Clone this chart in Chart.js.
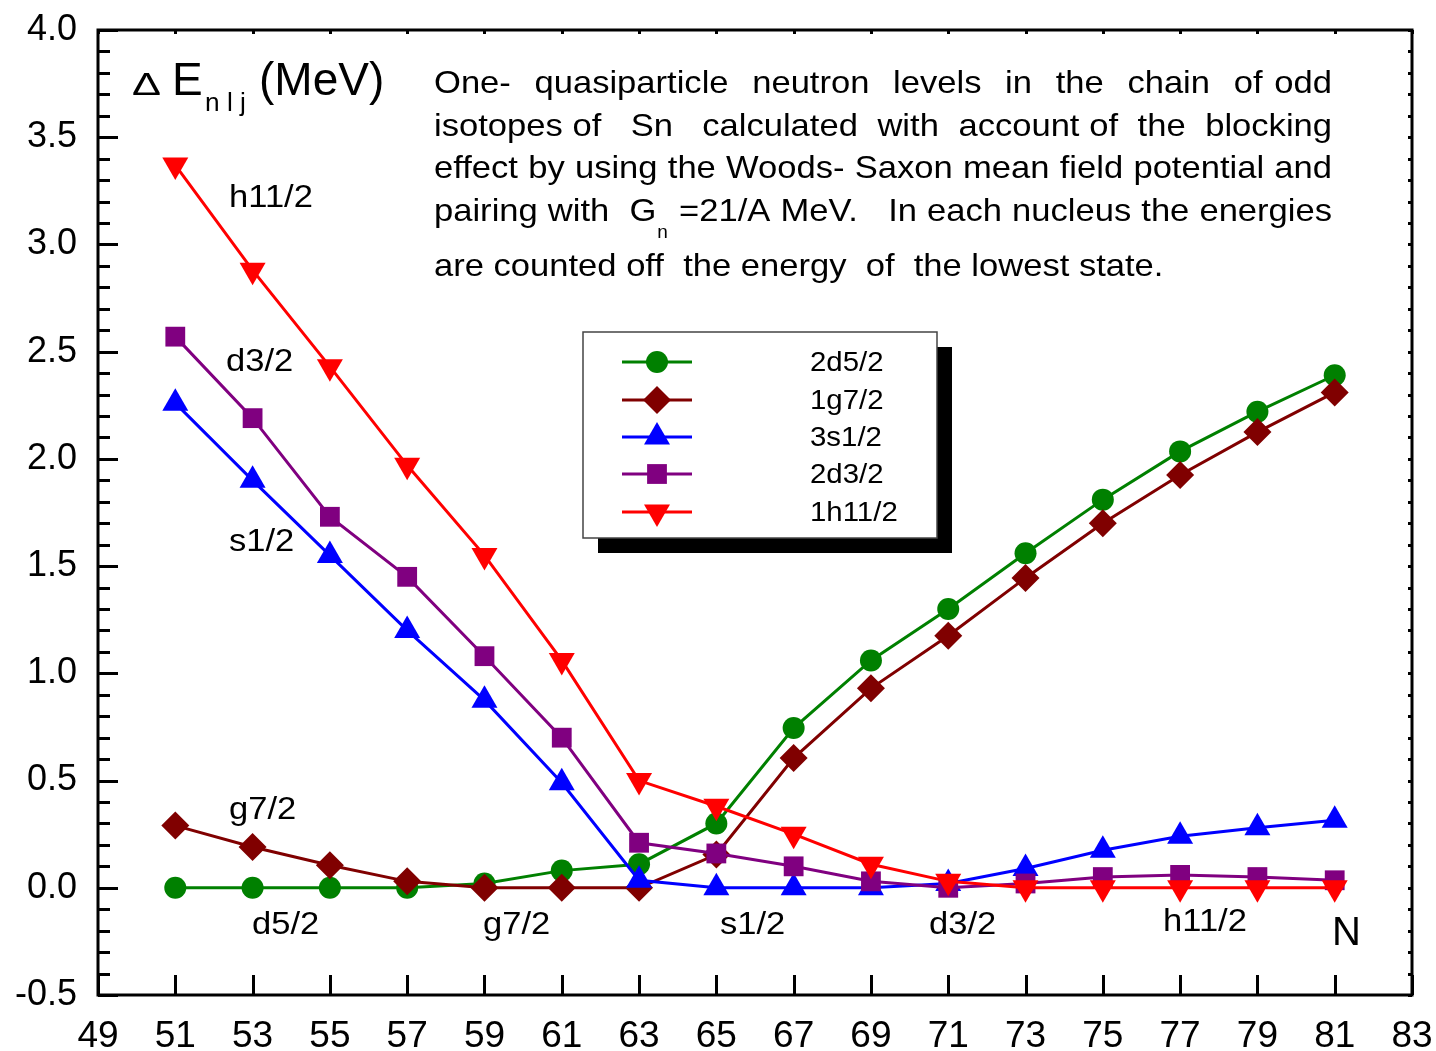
<!DOCTYPE html>
<html>
<head>
<meta charset="utf-8">
<script src="https://cdn.jsdelivr.net/npm/chart.js@4.4.1/dist/chart.umd.min.js"></script>
<style>
  html, body { margin: 0; padding: 0; background: #fff; }
  #wrap { width: 1436px; height: 1051px; }
</style>
</head>
<body>
<div id="wrap"><canvas id="chart" width="1436" height="1051"></canvas></div>
<script>
// neutron number N of the odd Sn isotopes
const neutronN = [51, 53, 55, 57, 59, 61, 63, 65, 67, 69, 71, 73, 75, 77, 79, 81];

// quasiparticle level energies (MeV)
const level2d52  = [0, 0, 0, 0, 0.02, 0.08, 0.11, 0.30, 0.745, 1.06, 1.30, 1.56, 1.81, 2.035, 2.22, 2.39];
const level1g72  = [0.29, 0.19, 0.105, 0.03, 0, 0, 0, 0.155, 0.605, 0.93, 1.175, 1.445, 1.70, 1.925, 2.125, 2.31];
const level3s12  = [2.26, 1.90, 1.55, 1.20, 0.875, 0.49, 0.035, 0, 0, 0, 0.02, 0.09, 0.175, 0.24, 0.28, 0.315];
const level2d32  = [2.57, 2.19, 1.73, 1.45, 1.08, 0.70, 0.21, 0.16, 0.10, 0.03, 0, 0.02, 0.05, 0.06, 0.05, 0.035];
const level1h112 = [3.37, 2.88, 2.43, 1.97, 1.55, 1.06, 0.50, 0.38, 0.25, 0.11, 0.03, 0, 0, 0, 0, 0];

const seriesNames = ["2d5/2", "1g7/2", "3s1/2", "2d3/2", "1h11/2"];
const xTickMin = 49, xTickMax = 83, xTickStep = 2;
const yTickMin = -0.5, yTickMax = 4.0, yTickStep = 0.5;

const FONT = "'Liberation Sans', Arial, sans-serif";

function toPoints(vals) {
    return neutronN.map((n, i) => ({ x: n, y: vals[i] }));
}

const styles = [
    { color: "#008000", pointStyle: "circle",   radius: 11, rotation: 0 },
    { color: "#800000", pointStyle: "rectRot",  radius: 14, rotation: 0 },
    { color: "#0000ff", pointStyle: "triangle", radius: 15, rotation: 0 },
    { color: "#800080", pointStyle: "rect",     radius: 14, rotation: 0 },
    { color: "#ff0000", pointStyle: "triangle", radius: 15, rotation: 180 },
];
const allLevels = [level2d52, level1g72, level3s12, level2d32, level1h112];

const datasets = allLevels.map((vals, i) => ({
    label: seriesNames[i],
    data: toPoints(vals),
    borderColor: styles[i].color,
    backgroundColor: styles[i].color,
    borderWidth: 3,
    pointStyle: styles[i].pointStyle,
    pointRadius: styles[i].radius,
    pointRotation: styles[i].rotation,
    pointBorderWidth: 0,
    pointBackgroundColor: styles[i].color,
    order: 5 - i,   // red on top, green at the bottom
}));

// text drawn with a slight horizontal stretch, like the original
function stretchText(ctx, text, x, y, size, sx) {
    ctx.save();
    ctx.font = size + "px " + FONT;
    ctx.translate(x, y);
    ctx.scale(sx, 1);
    ctx.fillText(text, 0, 0);
    ctx.restore();
}

// frame, inward ticks, legend box and text notes
const decorPlugin = {
    id: "decor",
    afterDraw(chart) {
        const ctx = chart.ctx;
        const a = chart.chartArea;
        const xs = chart.scales.x, ys = chart.scales.y;
        ctx.save();
        ctx.strokeStyle = "#000";
        ctx.lineWidth = 3;
        ctx.strokeRect(a.left, a.top, a.right - a.left, a.bottom - a.top);

        // y ticks: majors every 0.5, minors every 0.1
        for (let k = 0; k <= 45; k++) {
            const v = yTickMin + k * 0.1;
            const py = Math.round(ys.getPixelForValue(v)) + 0.5;
            const major = k % 5 === 0;
            ctx.beginPath();
            ctx.moveTo(a.left, py);
            ctx.lineTo(a.left + (major ? 20 : 12), py);
            ctx.moveTo(a.right, py);
            ctx.lineTo(a.right - 4, py);
            ctx.stroke();
        }
        // x ticks
        for (let v = xTickMin; v <= xTickMax; v += xTickStep) {
            const px = Math.round(xs.getPixelForValue(v)) + 0.5;
            ctx.beginPath();
            ctx.moveTo(px, a.bottom);
            ctx.lineTo(px, a.bottom - 20);
            ctx.moveTo(px, a.top);
            ctx.lineTo(px, a.top + 4);
            ctx.stroke();
        }

        // legend with drop shadow
        const lx = 583, ly = 332, lw = 354, lh = 206;
        ctx.fillStyle = "#000";
        ctx.fillRect(lx + 15, ly + 15, lw, lh);
        ctx.fillStyle = "#fff";
        ctx.fillRect(lx, ly, lw, lh);
        ctx.strokeStyle = "#444";
        ctx.lineWidth = 1.5;
        ctx.strokeRect(lx, ly, lw, lh);
        const rowY = [362, 400, 437, 474, 512];
        ctx.textBaseline = "middle";
        ctx.textAlign = "left";
        styles.forEach((s, i) => {
            const y = rowY[i];
            ctx.strokeStyle = s.color;
            ctx.fillStyle = s.color;
            ctx.lineWidth = 3;
            ctx.beginPath();
            ctx.moveTo(622, y);
            ctx.lineTo(692, y);
            ctx.stroke();
            Chart.helpers.drawPoint(ctx, {
                pointStyle: s.pointStyle, radius: s.radius, rotation: s.rotation, borderWidth: 0
            }, 657, y);
            ctx.fillStyle = "#000";
            stretchText(ctx, seriesNames[i], 810, y + 1, 28, 1.05);
        });

        // axis title
        ctx.fillStyle = "#000";
        ctx.textBaseline = "alphabetic";
        stretchText(ctx, "\u0394", 132, 95, 31, 1.4);
        stretchText(ctx, "E", 172, 95, 46, 1.0);
        stretchText(ctx, "n l j", 205, 111, 25, 1.05);
        stretchText(ctx, "(MeV)", 259, 95, 46, 1.0);

        // description paragraph, justified between x0 and x1;
        // every space is one stretchable gap, so runs of spaces stay wider
        const PS = 32, SX = 1.08;
        const x0 = 434, x1 = 1332;
        function wordWidth(w) {
            ctx.font = PS + "px " + FONT;
            if (typeof w === "string") return ctx.measureText(w).width * SX;
            const m = ctx.measureText(w.t).width * SX;
            ctx.font = "19px " + FONT;
            return m + ctx.measureText(w.sub).width + 2;
        }
        function justify(words, y) {
            const widths = words.map(wordWidth);
            const total = widths.reduce((p, c) => p + c, 0);
            const gap = (x1 - x0 - total) / (words.length - 1);
            let x = x0;
            words.forEach((w, i) => {
                if (typeof w === "string") {
                    if (w) stretchText(ctx, w, x, y, PS, SX);
                } else {
                    stretchText(ctx, w.t, x, y, PS, SX);
                    ctx.font = PS + "px " + FONT;
                    const m = ctx.measureText(w.t).width * SX;
                    stretchText(ctx, w.sub, x + m + 1, y + 17, 19, 1.0);
                }
                x += widths[i] + gap;
            });
        }
        justify("One-  quasiparticle  neutron  levels  in  the  chain  of odd".split(" "), 93);
        justify("isotopes of   Sn   calculated  with  account of  the  blocking".split(" "), 136);
        justify("effect by using the Woods- Saxon mean field potential and".split(" "), 178);
        justify(["pairing", "with", "", { t: "G", sub: "n" }, "=21/A", "MeV.", "", "", "In", "each", "nucleus", "the", "energies"], 221);
        stretchText(ctx, "are counted off  the energy  of  the lowest state.", x0, 276, PS, SX);

        // curve labels
        const notes = [
            ["h11/2", 229, 207], ["d3/2", 226, 371], ["s1/2", 229, 551], ["g7/2", 229, 819],
            ["d5/2", 252, 934], ["g7/2", 483, 934], ["s1/2", 720, 934], ["d3/2", 929, 934], ["h11/2", 1163, 931],
        ];
        notes.forEach(n => stretchText(ctx, n[0], n[1], n[2], 32, 1.08));
        stretchText(ctx, "N", 1332, 945, 40, 1.0);
        ctx.restore();
    }
};

new Chart(document.getElementById("chart"), {
    type: "line",
    data: { datasets: datasets },
    options: {
        responsive: false,
        animation: false,
        devicePixelRatio: 1,
        layout: { padding: { top: 30, right: 24, left: 0, bottom: 0 } },
        plugins: { legend: { display: false }, tooltip: { enabled: false } },
        scales: {
            x: {
                type: "linear",
                min: xTickMin,
                max: xTickMax,
                grid: { display: false, drawTicks: false },
                border: { display: false },
                ticks: {
                    stepSize: xTickStep,
                    padding: 20,
                    color: "#000",
                    font: { family: FONT, size: 37 },
                    maxRotation: 0,
                },
                afterFit: s => { s.height = 56; s.paddingLeft = 0; s.paddingRight = 0; },
            },
            y: {
                type: "linear",
                min: yTickMin,
                max: yTickMax,
                grid: { display: false, drawTicks: false },
                border: { display: false },
                ticks: {
                    stepSize: yTickStep,
                    padding: 21,
                    color: "#000",
                    font: { family: FONT, size: 36 },
                    callback: v => v.toFixed(1),
                },
                afterFit: s => { s.width = 98; s.paddingTop = 0; s.paddingBottom = 0; },
            },
        },
    },
    plugins: [decorPlugin],
});
</script>
</body>
</html>
